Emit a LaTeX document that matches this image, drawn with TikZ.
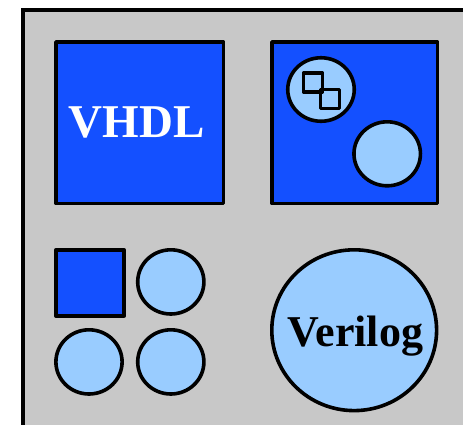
\documentclass[tikz,border=0pt]{standalone}
\usepackage{fontspec}
\setmainfont{Liberation Serif}
\usetikzlibrary{shapes.geometric}
\definecolor{panelgray}{RGB}{200,200,200}
\definecolor{deepblue}{RGB}{20,80,255}
\definecolor{paleblue}{RGB}{153,204,255}
\begin{document}
\begin{tikzpicture}[x=1pt,y=-1pt,
  box/.style={draw=black,line width=3.6pt,line join=round,fill=deepblue,rectangle,inner sep=0pt},
  disc/.style={draw=black,line width=3.6pt,fill=paleblue,ellipse,inner sep=0pt},
  tiny/.style={draw=black,line width=3.4pt,line join=round,rectangle,inner sep=0pt,minimum size=19pt}]
\useasboundingbox (0,0) rectangle (463,424);
% background panel, running off the right and bottom edges
\draw[line width=4pt,fill=panelgray] (22.5,10) rectangle (480,440);
% upper row
\node[box,minimum width=167.5pt,minimum height=161.5pt] (vhdl) at (139.8,122.8) {};
\node[text=white,font=\bfseries\fontsize{47}{47}\selectfont,anchor=base] (vhdltxt) at (136.5,137.5) {VHDL};
\node[box,minimum width=165.5pt,minimum height=161.5pt] (chip) at (354.8,122.8) {};
\node[disc,minimum width=66.5pt,minimum height=63.5pt] (cell) at (321,89.5) {};
\node[tiny] (sqa) at (313,82.3) {};
\node[tiny] (sqb) at (329.7,98.7) {};
\node[disc,minimum width=66.5pt,minimum height=64pt] (dot) at (387.2,153.8) {};
% lower left cluster
\node[box,minimum width=68pt,minimum height=66.2pt] (sq) at (90,282.8) {};
\node[disc,minimum width=66.2pt,minimum height=64.2pt] (c1) at (170.8,281.9) {};
\node[disc,minimum width=66.2pt,minimum height=64.2pt] (c2) at (89,361.9) {};
\node[disc,minimum width=66.2pt,minimum height=64.2pt] (c3) at (170.8,361.9) {};
% lower right
\node[disc,minimum width=164.8pt,minimum height=160.8pt] (verilog) at (354.2,330.2) {};
\node[text=black,font=\bfseries\fontsize{44}{44}\selectfont,anchor=base] (veriltxt) at (355.5,346.7) {Verilog};
\end{tikzpicture}
\end{document}
